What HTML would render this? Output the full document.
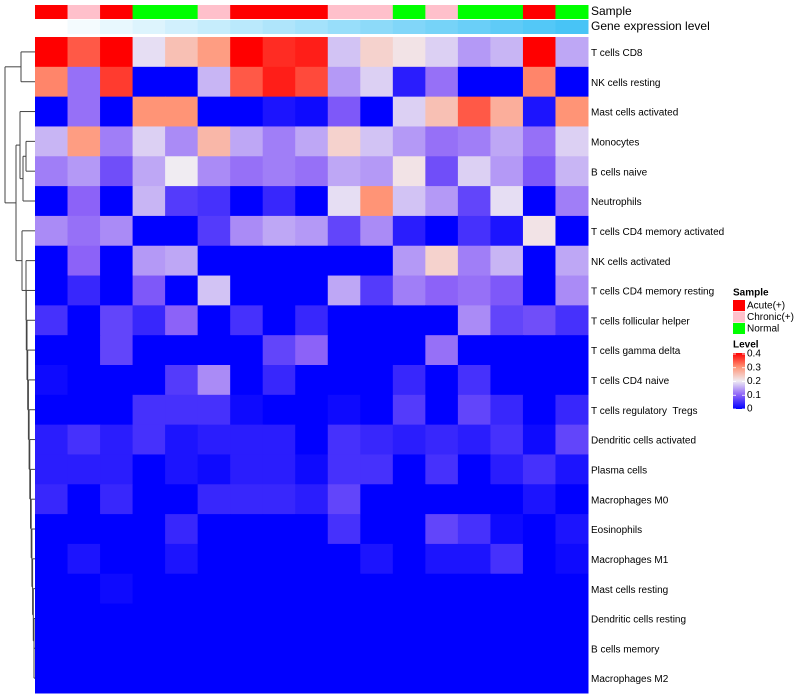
<!DOCTYPE html>
<html><head><meta charset="utf-8"><style>
body{margin:0;background:#fff;width:800px;height:700px;overflow:hidden;font-family:"Liberation Sans",sans-serif}
svg{display:block}
text{white-space:pre}
</style></head><body>
<svg id="chart" width="800" height="700" xmlns="http://www.w3.org/2000/svg"></svg>
<script>
const rowNames=["T cells CD8","NK cells resting","Mast cells activated","Monocytes","B cells naive","Neutrophils","T cells CD4 memory activated","NK cells activated","T cells CD4 memory resting","T cells follicular helper","T cells gamma delta","T cells CD4 naive","T cells regulatory  Tregs","Dendritic cells activated","Plasma cells","Macrophages M0","Eosinophils","Macrophages M1","Mast cells resting","Dendritic cells resting","B cells memory","Macrophages M2"];
const sampleGroups=["A","C","A","N","N","C","A","A","A","C","C","N","C","N","N","A","N"];
const geneLevel=[0,1,2,3,4,5,6,7,8,9,10,11,12,13,14,15,16];
const values=[
[0.4,0.34,0.4,0.19,0.25,0.29,0.4,0.37,0.38,0.17,0.23,0.21,0.18,0.14,0.16,0.4,0.15],
[0.31,0.11,0.36,0,0,0.16,0.34,0.38,0.35,0.14,0.18,0.03,0.11,0,0,0.31,0],
[0,0.11,0,0.3,0.3,0,0,0.02,0.01,0.09,0,0.18,0.25,0.34,0.27,0.02,0.3],
[0.16,0.29,0.12,0.18,0.13,0.26,0.15,0.12,0.15,0.23,0.17,0.14,0.11,0.12,0.15,0.11,0.18],
[0.12,0.14,0.08,0.15,0.2,0.13,0.11,0.12,0.11,0.15,0.14,0.21,0.08,0.18,0.14,0.09,0.16],
[0,0.1,0,0.16,0.06,0.05,0,0.04,0,0.19,0.3,0.17,0.14,0.07,0.19,0,0.12],
[0.13,0.11,0.13,0,0,0.06,0.13,0.15,0.14,0.07,0.13,0.03,0,0.05,0.02,0.21,0],
[0,0.1,0,0.14,0.15,0,0,0,0,0,0,0.14,0.23,0.12,0.16,0,0.15],
[0,0.04,0,0.09,0,0.17,0,0,0,0.15,0.06,0.12,0.1,0.11,0.09,0,0.13],
[0.05,0,0.07,0.04,0.1,0,0.05,0,0.04,0,0,0,0,0.13,0.07,0.08,0.05],
[0,0,0.07,0,0,0,0,0.07,0.1,0,0,0,0.11,0,0,0,0],
[0.01,0,0,0,0.06,0.13,0,0.04,0,0,0,0.04,0,0.05,0,0,0],
[0,0,0,0.05,0.05,0.05,0.01,0,0,0.01,0,0.06,0,0.07,0.04,0,0.04],
[0.03,0.05,0.03,0.05,0.02,0.03,0.03,0.03,0,0.05,0.04,0.03,0.04,0.03,0.05,0.01,0.07],
[0.03,0.03,0.03,0,0.02,0.01,0.03,0.03,0.01,0.05,0.05,0,0.05,0,0.03,0.05,0.02],
[0.04,0,0.04,0,0,0.04,0.04,0.04,0.03,0.07,0,0,0,0,0,0.02,0],
[0,0,0,0,0.04,0,0,0,0,0.05,0,0,0.07,0.05,0.01,0,0.02],
[0,0.02,0,0,0.02,0,0,0,0,0,0.02,0,0.02,0.02,0.05,0,0.01],
[0,0,0.01,0,0,0,0,0,0,0,0,0,0,0,0,0,0],
[0,0,0,0,0,0,0,0,0,0,0,0,0,0,0,0,0],
[0,0,0,0,0,0,0,0,0,0,0,0,0,0,0,0,0],
[0,0,0,0,0,0,0,0,0,0,0,0,0,0,0,0,0]];
const levelTicks=[0,0.1,0.2,0.3,0.4];
const groupLabels=["Acute(+)","Chronic(+)","Normal"];

const NS="http://www.w3.org/2000/svg";
const svg=document.getElementById('chart');
const X0=35,X1=588,Y0=37,Y1=693;
const nC=values[0].length,nR=values.length;
const cw=(X1-X0)/nC,rh=(Y1-Y0)/nR;
const xCol=i=>X0+i*cw, yRow=j=>Y0+j*rh;
const groupColor={A:"#ff0000",C:"#ffc0cb",N:"#00ff00"};
function lerp(a,b,t){return a.map((v,i)=>Math.round(v+(b[i]-v)*t));}
const stopsV=[0,0.1,0.2,0.3,0.4];
const stopsC=[[0,0,255],[140,98,248],[240,236,242],[255,148,118],[255,0,0]];
function colorOf(v){v=Math.max(0,Math.min(0.4,v));let k=Math.min(3,Math.floor(v/0.1));
 const c=lerp(stopsC[k],stopsC[k+1],(v-stopsV[k])/0.1);return `rgb(${c})`;}
function geneColor(g){const t=g/(geneLevel.length-1);return `rgb(${lerp([255,255,255],[72,196,246],t)})`;}
function el(tag,attrs){const e=document.createElementNS(NS,tag);for(const k in attrs)e.setAttribute(k,attrs[k]);svg.appendChild(e);return e;}
function txt(x,y,s,size,bold){const t=el('text',{x:x,y:y,'font-size':size,'font-family':'Liberation Sans, sans-serif','font-weight':bold?'bold':'normal',fill:'#000','dominant-baseline':'middle'});t.textContent=s;return t;}

sampleGroups.forEach((g,i)=>{const r=el('rect',{x:xCol(i),y:5,width:cw+0.5,height:14,fill:groupColor[g]});

});
geneLevel.forEach((g,i)=>{const r=el('rect',{x:xCol(i),y:20,width:cw+0.5,height:14,fill:geneColor(g)});

});
let t=txt(591,12,"Sample",12);
t=txt(591,27,"Gene expression level",12);

values.forEach((row,j)=>row.forEach((v,i)=>{const r=el('rect',{x:xCol(i),y:yRow(j),width:cw+0.5,height:rh+0.5,fill:colorOf(v)});

}));
rowNames.forEach((n,j)=>{const l=txt(591,yRow(j)+rh/2+1.5,n,10);

});

const dg=[];
function node(kids,x){const ys=kids.map(k=>k.y);
 kids.forEach(k=>dg.push([k.x,k.y,x,k.y]));dg.push([x,Math.min(...ys),x,Math.max(...ys)]);
 return {x:x,y:(Math.min(...ys)+Math.max(...ys))/2};}
const leaf=j=>({x:X0,y:yRow(j)+rh/2});
const A=node([leaf(0),leaf(1)],21);
const B=node([leaf(3),leaf(4)],26);
const Cn=node([B,leaf(5)],23);
const D=node([leaf(2),Cn],20);
let L=node([leaf(20),leaf(21)],34);
for(let j=19;j>=7;j--){L=node([leaf(j),L],Math.max(26,34-(19-j)*0.7));}
const E=node([leaf(6),L],22);
const F=node([D,E],16);
node([A,F],5);
dg.forEach(s=>{const l=el('line',{x1:s[0],y1:s[1],x2:s[2],y2:s[3],stroke:'#444','stroke-width':1});

});

t=txt(733,293,"Sample",10,true);
["A","C","N"].forEach((g,i)=>{const r=el('rect',{x:733,y:300+i*11.5,width:12,height:11,fill:groupColor[g]});


const l=txt(747,306+i*11.5,groupLabels[i],10);

});
t=txt(733,345,"Level",10,true);
const defs=el('defs',{});const grad=document.createElementNS(NS,'linearGradient');grad.setAttribute('id','lg');grad.setAttribute('x1','0');grad.setAttribute('y1','1');grad.setAttribute('x2','0');grad.setAttribute('y2','0');defs.appendChild(grad);
for(let k=0;k<=8;k++){const s=document.createElementNS(NS,'stop');s.setAttribute('offset',k/8);s.setAttribute('stop-color',colorOf(0.4*k/8));grad.appendChild(s);}
const bar=el('rect',{x:733,y:353,width:12,height:56,fill:'url(#lg)'});


levelTicks.forEach(v=>{const y=409-v/0.4*55;const l=txt(747,y,String(v),10);


el('line',{x1:733,x2:736,y1:y,y2:y,stroke:'#fff','stroke-width':0.8});el('line',{x1:742,x2:745,y1:y,y2:y,stroke:'#fff','stroke-width':0.8});});
</script>
</body></html>
